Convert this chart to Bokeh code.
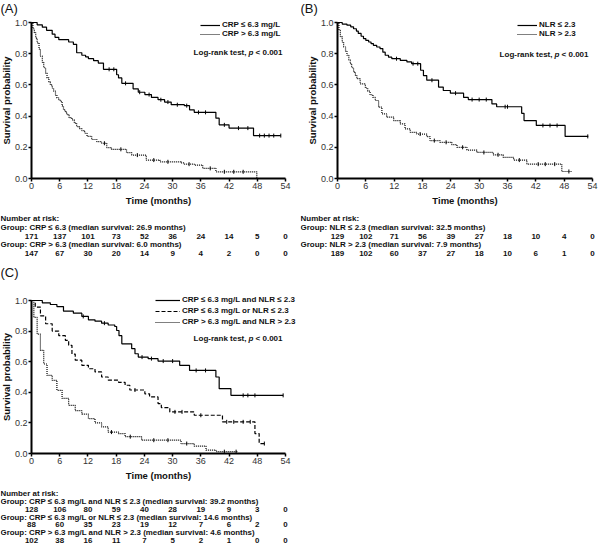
import numpy as np
from bokeh.plotting import figure
from bokeh.models import (Range1d, Legend, LegendItem, Label, LabelSet, ColumnDataSource,
                          NumeralTickFormatter, FixedTicker)
from bokeh.layouts import column, row
from bokeh.embed import file_html
from bokeh.resources import INLINE
from bokeh.core.properties import value

FONT = "Liberation Sans"
INK = "#111111"

x_ticks = [0, 6, 12, 18, 24, 30, 36, 42, 48, 54]
y_ticks = [0.0, 0.2, 0.4, 0.6, 0.8, 1.0]

# ---------------- Panel A: CRP ----------------
a_low_t = [0, 1.2, 2.3, 3.2, 4.4, 5.0, 5.8, 7.9, 8.9, 9.6, 10.7, 11.5, 12.1, 13.2, 14.2, 15.3, 18.1, 18.5,
           19.2, 21.6, 22.7, 24.1, 25.5, 26.9, 28.3, 29.7, 32.5, 33.6, 34.6, 39.2, 39.9, 42.0, 47.2, 53.0]
a_low_s = [1.0, 0.985, 0.97, 0.95, 0.925, 0.905, 0.89, 0.875, 0.86, 0.806, 0.79, 0.78, 0.768, 0.755, 0.74,
           0.70, 0.665, 0.645, 0.61, 0.575, 0.553, 0.538, 0.52, 0.505, 0.49, 0.473, 0.467, 0.44, 0.424, 0.387,
           0.344, 0.323, 0.275, 0.275]
a_low_cens = [16.5, 17.5, 20.0, 23.0, 25.0, 27.5, 29.0, 31.0, 33.0, 35.5, 37.0, 41.0, 44.0, 46.0, 48.5,
              49.5, 50.5, 51.5, 53.0]
a_high_t = [0, 0.3, 0.6, 0.9, 1.2, 1.6, 1.9, 2.3, 2.6, 3.0, 3.3, 3.7, 4.0, 4.4, 4.7, 5.1, 5.4, 5.8, 6.1,
            6.5, 6.8, 7.2, 7.5, 8.0, 8.6, 9.1, 9.6, 10.2, 10.7, 11.3, 11.8, 12.8, 13.9, 14.9, 16.0, 17.0,
            20.2, 21.3, 24.4, 27.3, 31.8, 32.5, 34.6, 36.4, 39.2, 47.9]
a_high_s = [1.0, 0.96, 0.935, 0.90, 0.87, 0.83, 0.785, 0.745, 0.71, 0.675, 0.645, 0.62, 0.60, 0.58, 0.56,
            0.535, 0.516, 0.505, 0.495, 0.465, 0.44, 0.425, 0.41, 0.39, 0.376, 0.355, 0.333, 0.32, 0.307,
            0.29, 0.27, 0.25, 0.236, 0.226, 0.198, 0.187, 0.166, 0.15, 0.118, 0.107, 0.100, 0.092, 0.086,
            0.065, 0.043, 0.0]
a_high_cens = [15.5, 19.0, 22.5, 26.0, 29.0, 33.5, 38.0, 41.0, 43.0, 45.0]
a_labels = ["CRP \u2264 6.3 mg/L", "CRP > 6.3 mg/L"]
a_risk_titles = ["Group: CRP \u2264 6.3 (median survival: 26.9 months)",
                 "Group: CRP > 6.3 (median survival: 6.0 months)"]
a_risk = [[171, 137, 101, 73, 52, 36, 24, 14, 5, 0],
          [147, 67, 30, 20, 14, 9, 4, 2, 0, 0]]

# ---------------- Panel B: NLR ----------------
b_low_t = [0, 1.0, 2.0, 2.8, 3.4, 4.0, 4.4, 5.0, 5.5, 6.0, 6.6, 7.1, 7.6, 8.3, 9.0, 9.6, 10.1, 10.8, 11.5,
           13.3, 14.7, 15.7, 17.6, 18.2, 18.9, 21.4, 22.4, 23.9, 26.7, 27.7, 32.7, 33.7, 39.0, 39.5, 42.1,
           48.2, 53.1]
b_low_s = [1.0, 0.99, 0.983, 0.972, 0.96, 0.945, 0.93, 0.912, 0.897, 0.885, 0.875, 0.865, 0.854, 0.843,
           0.833, 0.81, 0.79, 0.778, 0.768, 0.757, 0.747, 0.736, 0.694, 0.66, 0.63, 0.586, 0.564, 0.547,
           0.52, 0.506, 0.478, 0.46, 0.418, 0.371, 0.34, 0.27, 0.27]
b_low_cens = [12.5, 16.0, 17.0, 20.0, 25.0, 28.5, 30.0, 31.5, 35.5, 36.0, 43.5, 45.0, 46.5, 53.0]
b_high_t = [0, 0.3, 0.6, 1.0, 1.3, 1.7, 2.0, 2.4, 2.7, 3.0, 3.4, 3.8, 4.1, 4.8, 5.9, 6.4, 6.9, 7.5, 8.0,
            8.7, 9.4, 10.4, 11.9, 13.3, 14.3, 15.4, 16.8, 18.9, 19.6, 21.7, 24.2, 25.3, 27.4, 29.5, 33.0,
            35.1, 37.3, 40.1, 47.5, 49.6]
b_high_s = [1.0, 0.95, 0.91, 0.875, 0.843, 0.815, 0.79, 0.76, 0.736, 0.71, 0.682, 0.66, 0.64, 0.607, 0.58,
            0.56, 0.537, 0.52, 0.5, 0.457, 0.414, 0.393, 0.371, 0.35, 0.318, 0.296, 0.285, 0.268, 0.243,
            0.232, 0.217, 0.2, 0.182, 0.167, 0.152, 0.135, 0.118, 0.092, 0.045, 0.045]
b_high_cens = [17.5, 20.5, 23.0, 26.5, 31.0, 34.0, 38.5, 42.5, 44.0, 46.0, 49.0]
b_labels = ["NLR \u2264 2.3", "NLR > 2.3"]
b_risk_titles = ["Group: NLR \u2264 2.3 (median survival: 32.5 months)",
                 "Group: NLR > 2.3 (median survival: 7.9 months)"]
b_risk = [[129, 102, 71, 56, 39, 27, 18, 10, 4, 0],
          [189, 102, 60, 37, 27, 18, 10, 6, 1, 0]]

# ---------------- Panel C: combined ----------------
c1_t = [0, 2.3, 4.0, 5.4, 6.8, 8.9, 10.7, 12.1, 13.5, 14.9, 16.3, 17.7, 18.1, 18.6, 19.2, 21.3, 22.0, 22.7,
        24.8, 26.9, 31.5, 33.6, 39.2, 39.9, 42.4, 53.5]
c1_s = [1.0, 0.985, 0.974, 0.96, 0.93, 0.917, 0.896, 0.874, 0.865, 0.852, 0.84, 0.83, 0.804, 0.77, 0.717,
        0.685, 0.652, 0.63, 0.62, 0.604, 0.576, 0.543, 0.5, 0.424, 0.38, 0.38]
c1_cens = [11.0, 15.5, 23.5, 25.5, 28.0, 30.0, 35.0, 37.0, 45.0, 46.0, 47.5, 53.5]
c2_t = [0, 0.8, 1.9, 3.0, 4.4, 5.8, 7.2, 7.9, 8.6, 9.3, 10.7, 12.1, 13.5, 14.9, 16.3, 18.5, 19.9, 20.9, 24.1,
        25.1, 26.9, 27.6, 29.4, 34.6, 40.6, 47.5, 48.4, 49.6]
c2_s = [1.0, 0.957, 0.9, 0.848, 0.8, 0.77, 0.74, 0.707, 0.65, 0.61, 0.576, 0.554, 0.533, 0.5, 0.48, 0.465,
        0.446, 0.415, 0.39, 0.37, 0.326, 0.3, 0.272, 0.25, 0.207, 0.13, 0.065, 0.065]
c2_cens = [22.0, 30.5, 32.0, 36.0, 41.5, 43.0, 45.0, 46.5, 49.5]
c3_t = [0, 0.5, 1.2, 1.9, 2.6, 3.3, 4.4, 5.4, 6.5, 7.9, 9.3, 10.7, 12.1, 13.5, 14.9, 16.3, 18.5, 19.9, 23.4,
        31.8, 34.6, 37.1, 39.2, 43.8]
c3_s = [1.0, 0.89, 0.78, 0.674, 0.585, 0.51, 0.478, 0.413, 0.36, 0.315, 0.28, 0.257, 0.228, 0.2, 0.174,
        0.14, 0.13, 0.11, 0.087, 0.065, 0.048, 0.022, 0.012, 0.012]
c3_cens = [17.0, 21.0, 26.0, 29.0, 33.0, 41.0, 43.5]
c_labels = ["CRP \u2264 6.3 mg/L and NLR \u2264 2.3", "CRP \u2264 6.3 mg/L or NLR \u2264 2.3",
            "CRP > 6.3 mg/L and NLR > 2.3"]
c_risk_titles = ["Group: CRP \u2264 6.3 mg/L and NLR \u2264 2.3 (median survival: 39.2 months)",
                 "Group: CRP \u2264 6.3 mg/L or NLR \u2264 2.3 (median survival: 14.6 months)",
                 "Group: CRP > 6.3 mg/L and NLR > 2.3 (median survival: 4.6 months)"]
c_risk = [[128, 106, 80, 59, 40, 28, 19, 9, 3, 0],
          [88, 60, 35, 23, 19, 12, 7, 6, 2, 0],
          [102, 38, 16, 11, 7, 5, 2, 1, 0, 0]]

# ---------------- layout (pixel geometry of each panel canvas) ----------------
W = 300
X0, X1 = 0, 54


def step_value(t, s, c):
    i = np.searchsorted(np.asarray(t), c, side="right") - 1
    return np.asarray(s)[i]


def panel(geom, title, series, glyph_w, label_w, spacing, legend_px, logrank_px,
          risk_titles, risk_counts, risk_px, risk_font):
    H = geom["H"]
    px0, px54 = geom["x_px"]          # canvas x of month 0 and month 54
    py1, py0 = geom["y_px"]           # canvas y of prob 1.0 and 0.0
    sx = (px54 - px0) / (X1 - X0)
    sy = (py0 - py1) / 1.0
    xs, xe = X0 - px0 / sx, X1 + (W - px54) / sx
    yt, yb = 1.0 + py1 / sy, -(H - py0) / sy

    def xd(px):
        return xs + px / sx

    def yd(py):
        return yt - py / sy

    p = figure(width=W, height=H, x_range=Range1d(xs, xe), y_range=Range1d(yb, yt),
               output_backend="svg", toolbar_location=None, title=None,
               min_border=0, min_border_left=0, min_border_right=0, min_border_top=0,
               min_border_bottom=0)
    p.grid.visible = False
    p.outline_line_color = None
    p.background_fill_color = "white"

    for ax in (p.xaxis, p.yaxis):
        ax.fixed_location = 0
        ax.axis_line_width = 2
        ax.axis_line_color = "black"
        ax.major_tick_line_width = 1.5
        ax.major_tick_line_color = "black"
        ax.major_tick_out = 3
        ax.major_tick_in = 0
        ax.minor_tick_line_color = None
        ax.major_label_text_font = FONT
        ax.major_label_text_font_size = "9px"
        ax.major_label_text_color = "#333333"
        ax.major_label_standoff = 1
        ax.axis_label_text_font = FONT
        ax.axis_label_text_font_size = "9.5px"
        ax.axis_label_text_font_style = "bold"
        ax.axis_label_text_color = INK
        ax.axis_label_standoff = 0
    p.xaxis.bounds = (X0, X1)
    p.yaxis.bounds = (0, 1)
    p.xaxis.ticker = FixedTicker(ticks=x_ticks)
    p.yaxis.ticker = FixedTicker(ticks=y_ticks)
    p.yaxis.formatter = NumeralTickFormatter(format="0.0")
    p.xaxis.axis_label = "Time (months)"
    p.yaxis.axis_label = "Survival probability"
    p.xaxis.axis_label_standoff = 3

    # panel letter
    p.add_layout(Label(x=xd(0), y=yd(geom["title_py"]), text=title, text_align="left",
                       text_baseline="top", text_font=FONT, text_font_size="13px",
                       text_color=INK))

    items = []
    for t, s, dash, cens, label in series:
        r = p.step(x=t, y=s, mode="after", line_color="black", line_width=1.2, line_dash=dash)
        cy = step_value(t, s, np.asarray(cens))
        p.scatter(x=cens, y=cy, marker="dash", angle=np.pi / 2, size=4, line_color="black", line_width=1)
        items.append(LegendItem(label=label, renderers=[r]))

    n = len(items)
    leg_h = n * 8 + (n - 1) * spacing
    lx, ltop = legend_px
    leg = Legend(items=items, location=(lx, H - ltop - leg_h), border_line_color=None,
                 background_fill_alpha=0, padding=0, margin=0, spacing=spacing,
                 glyph_width=glyph_w, glyph_height=8, label_height=8, label_width=label_w,
                 label_standoff=2, label_text_font=FONT, label_text_font_size="8px",
                 label_text_font_style="bold", label_text_color=INK, label_text_line_height=1.0)
    p.add_layout(leg)

    lr_x, lr_y = logrank_px
    common = dict(y=yd(lr_y), text_baseline="middle", text_align="right", text_font=FONT,
                  text_font_size="8px", text_color=INK)
    p.add_layout(Label(x=xd(lr_x), text="< 0.001", text_font_style="bold", **common))
    p.add_layout(Label(x=xd(lr_x), x_offset=-29, text="p", text_font_style="bold italic", **common))
    p.add_layout(Label(x=xd(lr_x), x_offset=-36, text="Log-rank test,", text_font_style="bold", **common))

    # number-at-risk table
    top_py, row_py = risk_px
    heads = ["Number at risk:"] + risk_titles
    head_rows = [0] + [1 + 2 * i for i in range(len(risk_titles))]
    for txt, rr in zip(heads, head_rows):
        p.add_layout(Label(x=xd(0), y=yd(top_py + rr * row_py), text=txt, text_align="left",
                           text_baseline="middle", text_font=FONT, text_font_size=risk_font,
                           text_font_style="bold", text_color=INK))
    nx, ny, nt = [], [], []
    for i, row_counts in enumerate(risk_counts):
        for xv, c in zip(x_ticks, row_counts):
            nx.append(xv)
            ny.append(yd(top_py + (2 + 2 * i) * row_py))
            nt.append(str(c))
    src = ColumnDataSource(dict(x=nx, y=ny, t=nt))
    p.add_layout(LabelSet(x="x", y="y", text="t", source=src, text_align="center",
                          text_baseline="middle", text_font=value(FONT),
                          text_font_size=value(risk_font), text_font_style="bold", text_color=INK))
    return p


geom_a = dict(H=262, x_px=(31, 285), y_px=(22, 178), title_py=0)
geom_b = dict(H=262, x_px=(37, 292), y_px=(22, 178), title_py=0)
geom_c = dict(H=292, x_px=(31, 285), y_px=(38, 191), title_py=2)

pa = panel(geom_a, "(A)",
           [(a_low_t, a_low_s, "solid", a_low_cens, a_labels[0]),
            (a_high_t, a_high_s, "1 1", a_high_cens, a_labels[1])],
           20, 20, 0, (200, 22), (282, 52), a_risk_titles, a_risk, (218, 8.75), "8px")
pb = panel(geom_b, "(B)",
           [(b_low_t, b_low_s, "solid", b_low_cens, b_labels[0]),
            (b_high_t, b_high_s, "1 1", b_high_cens, b_labels[1])],
           20, 20, 0, (217, 22), (288, 54), b_risk_titles, b_risk, (218, 8.75), "8px")
pc = panel(geom_c, "(C)",
           [(c1_t, c1_s, "solid", c1_cens, c_labels[0]),
            (c2_t, c2_s, "4 2", c2_cens, c_labels[1]),
            (c3_t, c3_s, "1 1", c3_cens, c_labels[2])],
           25, 20, 2, (155, 36), (282, 76), c_risk_titles, c_risk, (231, 7.85), "7.9px")

layout = column(row(pa, pb), pc)

open("out.html", "w").write(file_html(layout, INLINE))
